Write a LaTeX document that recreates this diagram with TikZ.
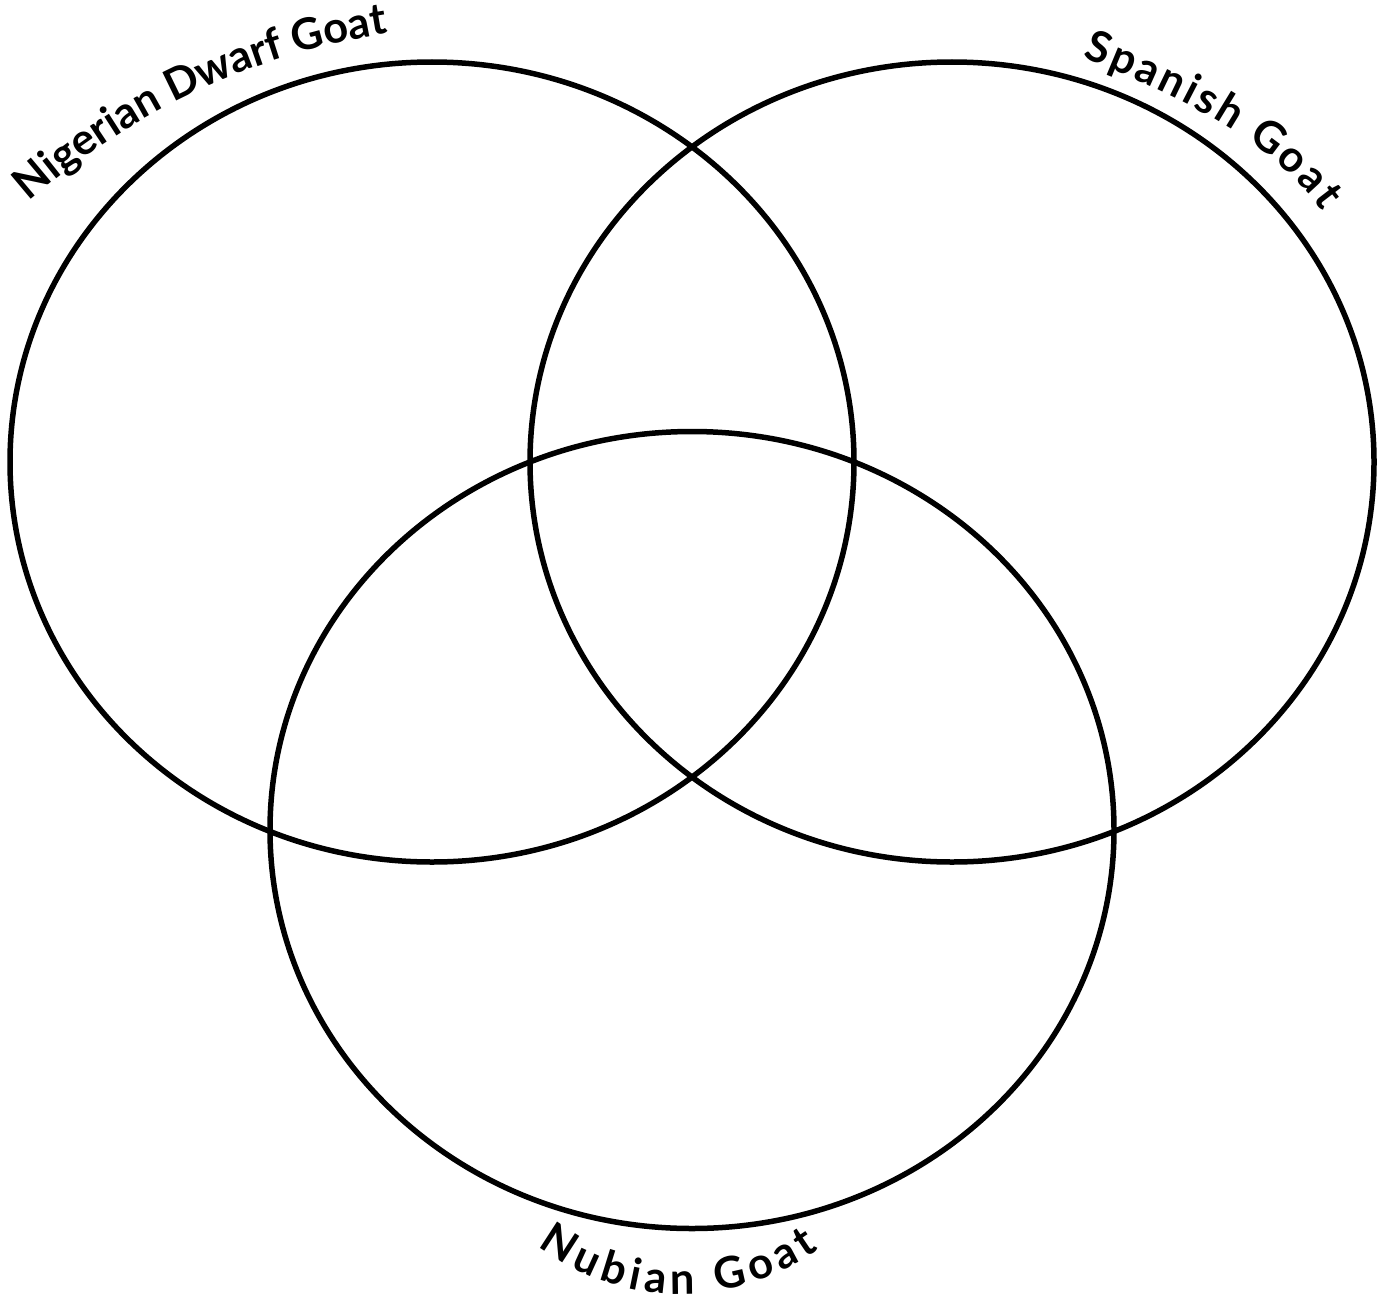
\documentclass[tikz,border=0pt]{standalone}
\usepackage{fontspec}
\setmainfont{Lato}
\usetikzlibrary{shapes.geometric,decorations.text}
\newcommand\labfont{\fontsize{43.5pt}{52pt}\selectfont\bfseries}
\begin{document}
\begin{tikzpicture}[x=1pt,y=1pt,
  venn/.style={draw=black, line width=5.5pt, ellipse, inner sep=0pt, outer sep=0pt,
    minimum width=844pt, minimum height=800pt},
  curvedlabel/.style={decorate, decoration={text along path, text align=fit to path,
    text={|\labfont|#1}}}]
\useasboundingbox (0,0) rectangle (1380,-1306);
\node[venn] (nigerian) at (432,-462) {};
\node[venn] (spanish) at (952,-462) {};
\node[venn, minimum height=797pt] (nubian) at (692,-830) {};
\path[curvedlabel={Nigerian Dwarf Goat}]
  (29,-202) .. controls (133,-111) and (250,-56) .. (384,-34);
\path[curvedlabel={Spanish Goat}]
  (1082,-58) .. controls (1199,-102) and (1280,-152) .. (1322,-211);
\path[curvedlabel={Nubian Goat}]
  (680,-1058) ++(233:236pt) arc[start angle=233, end angle=306, radius=236pt];
\end{tikzpicture}
\end{document}
